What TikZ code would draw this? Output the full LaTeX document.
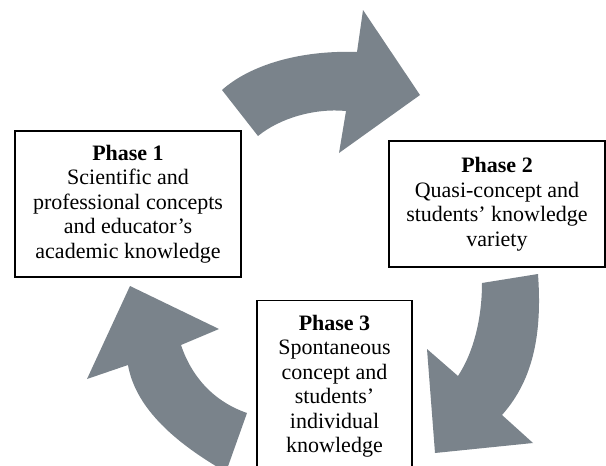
\documentclass[tikz,border=0pt]{standalone}
\usepackage{fontspec}
\setmainfont{Liberation Serif}
\definecolor{arrowgray}{RGB}{122,131,139}

\begin{document}
\begin{tikzpicture}[x=0.5pt,y=-0.5pt,
        phase/.style={draw,line width=0.9pt,fill=white,align=center,inner sep=0pt,
            font=\fontsize{11}{12.25}\selectfont},
        bigarrow/.style={fill=arrowgray,draw=none}]
            \useasboundingbox (0,0) rectangle (606,466);
            \clip (0,0) rectangle (606,466);
            % the three phases
            \node[phase,minimum width=113pt,minimum height=73pt] (phase1) at (128,204)
                {\textbf{Phase 1}\\Scientific and\\professional concepts\\and educator's\\academic knowledge};
            \node[phase,minimum width=108pt,minimum height=63pt] (phase2) at (497,204)
                {\textbf{Phase 2}\\Quasi-concept and\\students' knowledge\\variety};
            \node[phase,minimum width=77.5pt,minimum height=85.5pt] (phase3) at (334.5,386)
                {\textbf{Phase 3}\\Spontaneous\\concept and\\students'\\individual\\knowledge};
            % curved arrows of the cycle
            \fill[bigarrow] (222,90) .. controls (250,65) and (300,50) .. (357,52) -- (363,10) -- (420,95)
                -- (339,153) -- (346,111) .. controls (315,108) and (280,118) .. (258,136) -- cycle;
            \fill[bigarrow] (538,274) .. controls (542,330) and (535,378) .. (502,415) -- (533,443) -- (435,453)
                -- (427,349) -- (458,376) .. controls (475,350) and (482,315) .. (482,283) -- cycle;
            \fill[bigarrow] (226,472) .. controls (170,440) and (135,405) .. (128,365) -- (87,379) -- (130,286)
                -- (219,329) -- (181,345) .. controls (192,378) and (215,402) .. (247,413) -- cycle;
\end{tikzpicture}
\end{document}
